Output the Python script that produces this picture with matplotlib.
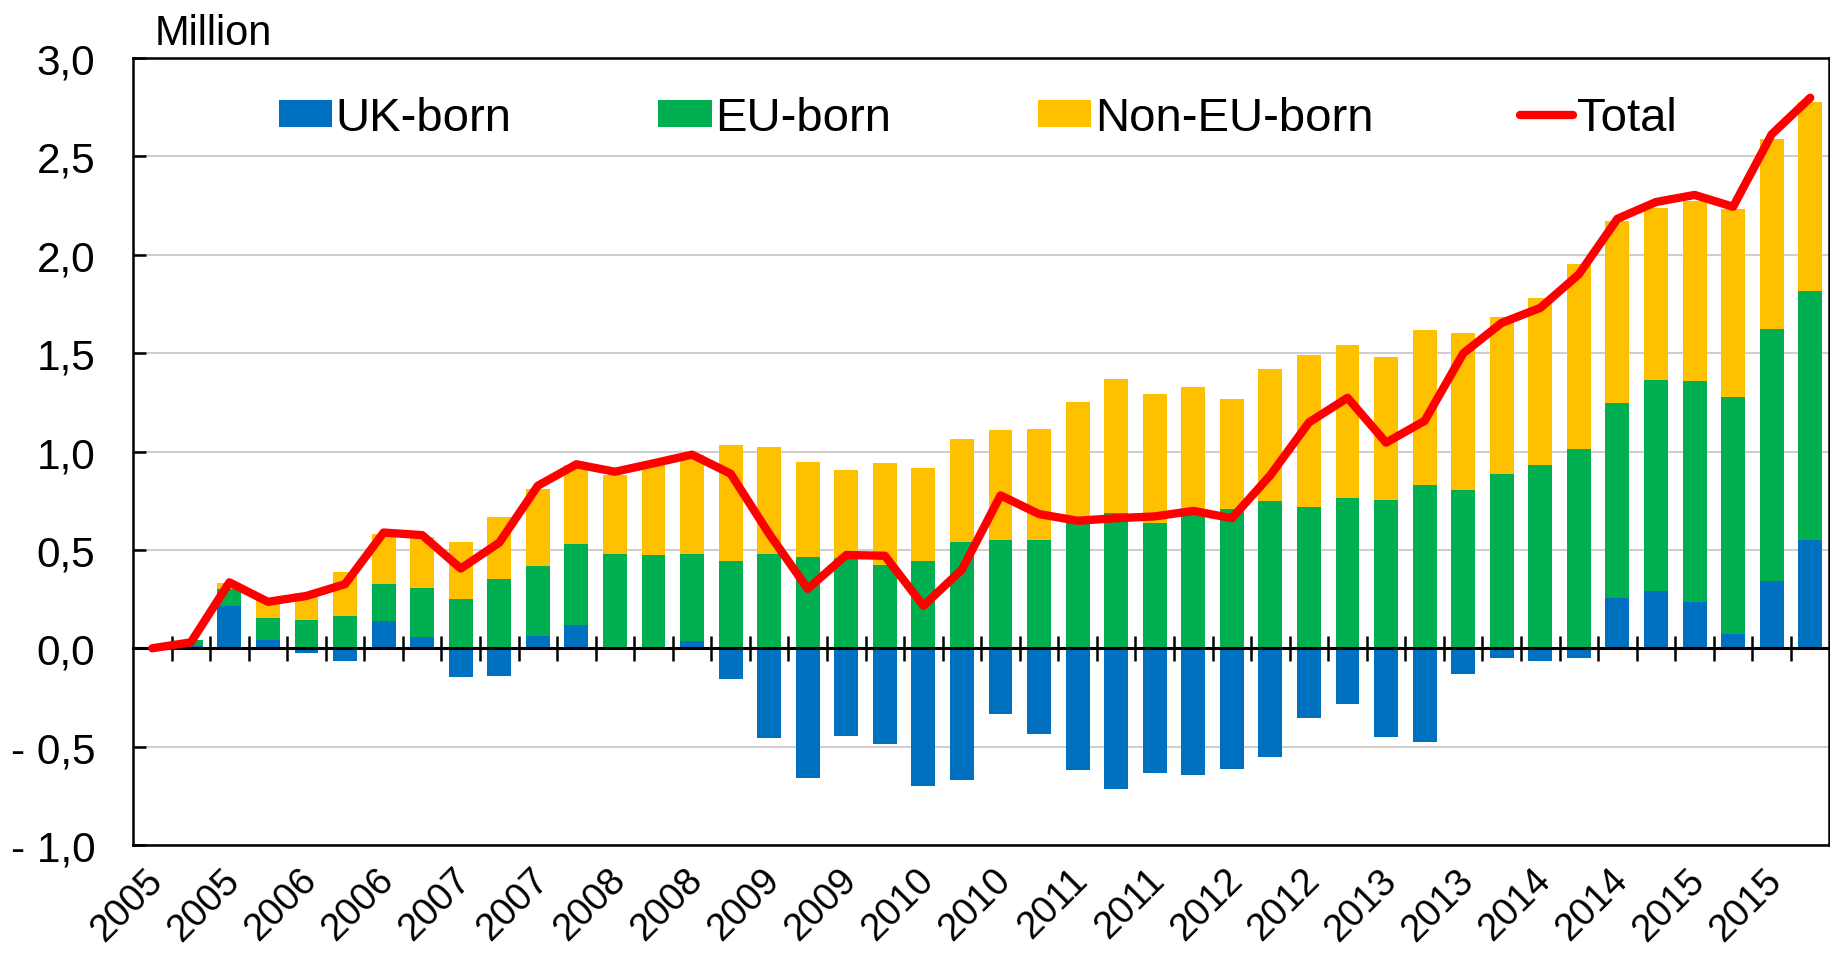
import matplotlib
matplotlib.use("Agg")
import matplotlib.pyplot as plt
import matplotlib.transforms as mtransforms
import numpy as np

plt.rcParams["font.family"] = ["Liberation Sans", "DejaVu Sans"]

# Quarterly data, 2005 Q1 .. 2015 Q4 (million, change since 2005 Q1)
years = [str(y) for y in range(2005, 2016) for _ in range(4)]
uk_born = [0.0, 0.01, 0.215, 0.044, -0.022, -0.066, 0.136, 0.058, -0.146, -0.143,
           0.061, 0.119, 0.0, 0.005, 0.035, -0.154, -0.458, -0.657, -0.448, -0.485,
           -0.70, -0.669, -0.336, -0.436, -0.618, -0.716, -0.636, -0.643, -0.616, -0.552,
           -0.352, -0.284, -0.452, -0.475, -0.129, -0.052, -0.067, -0.052, 0.256, 0.292,
           0.236, 0.073, 0.344, 0.548]
eu_born = [0.0, 0.03, 0.085, 0.11, 0.144, 0.166, 0.191, 0.247, 0.251, 0.354,
           0.358, 0.411, 0.478, 0.469, 0.445, 0.444, 0.481, 0.466, 0.458, 0.423,
           0.444, 0.54, 0.552, 0.55, 0.639, 0.686, 0.636, 0.686, 0.707, 0.748,
           0.718, 0.766, 0.755, 0.83, 0.804, 0.886, 0.929, 1.015, 0.989, 1.07,
           1.12, 1.202, 1.279, 1.269]
non_eu_born = [0.0, -0.01, 0.03, 0.10, 0.136, 0.224, 0.253, 0.258, 0.287, 0.312,
               0.391, 0.40, 0.405, 0.456, 0.50, 0.591, 0.542, 0.483, 0.446, 0.517,
               0.47, 0.526, 0.555, 0.564, 0.611, 0.68, 0.657, 0.644, 0.559, 0.672,
               0.771, 0.777, 0.727, 0.787, 0.797, 0.796, 0.849, 0.937, 0.928, 0.876,
               0.918, 0.957, 0.963, 0.96]
total = [0.0, 0.03, 0.335, 0.236, 0.266, 0.326, 0.588, 0.575, 0.405, 0.537,
         0.826, 0.935, 0.897, 0.94, 0.984, 0.887, 0.581, 0.302, 0.474, 0.47,
         0.216, 0.40, 0.777, 0.682, 0.648, 0.661, 0.67, 0.698, 0.661, 0.88,
         1.148, 1.273, 1.045, 1.156, 1.499, 1.654, 1.73, 1.901, 2.183, 2.268,
         2.304, 2.244, 2.612, 2.798]

series = [("UK-born", uk_born, "#0070C0"),
          ("EU-born", eu_born, "#00B050"),
          ("Non-EU-born", non_eu_born, "#FFC000")]

W, H = 1831, 954
fig = plt.figure(figsize=(W / 100, H / 100), dpi=100)
ax = fig.add_axes([133 / W, 1 - 846 / H, (1829.5 - 133) / W, (846 - 59) / H])

x = np.arange(len(total))
pos_base = np.zeros(len(x))
neg_base = np.zeros(len(x))
handles = []
for name, vals, color in series:
    v = np.array(vals)
    bottom = np.where(v >= 0, pos_base, neg_base)
    bars = ax.bar(x, v, width=0.62, bottom=bottom, color=color, label=name, zorder=2)
    handles.append(bars)
    pos_base += np.clip(v, 0, None)
    neg_base += np.clip(v, None, 0)

line, = ax.plot(x, total, color="#FF0000", lw=6, solid_capstyle="round",
                solid_joinstyle="round", label="Total", zorder=5)
handles.append(line)

ax.set_xlim(-0.5, len(x) - 0.5)
ax.set_ylim(-1.0, 3.0)
yt = np.arange(-1.0, 3.01, 0.5)
ax.set_yticks(yt)
ax.set_yticklabels([("- " if v < 0 else "") + f"{abs(v):.1f}".replace(".", ",") for v in yt])
ax.tick_params(axis="y", direction="in", length=9, width=1.8, pad=27, labelsize=30.5)
ax.yaxis.grid(True, color="#CFCFCF", lw=1.5)
ax.set_axisbelow(True)

ax.set_xticks(x[::2])
ax.set_xticklabels(years[::2], rotation=45, ha="right", va="top", rotation_mode="anchor")
ax.tick_params(axis="x", length=0, pad=12, labelsize=27.5)
shift = mtransforms.ScaledTranslation(-8 / 100, 0, fig.dpi_scale_trans)
for lab in ax.get_xticklabels():
    lab.set_transform(lab.get_transform() + shift)
for s in ax.spines.values():
    s.set_linewidth(1.8)
    s.set_color("black")

# category axis crossing at zero, with tick marks between categories
sec = ax.secondary_xaxis(0.25)
sec.set_xticks(np.arange(0.5, len(x) - 0.5, 1.0))
sec.set_xticklabels([])
sec.tick_params(axis="x", direction="inout", length=18, width=1.8)
sec.spines["bottom"].set_linewidth(2.2)
sec.set_zorder(3)

fig.text(155 / W, 1 - 45 / H, "Million", fontsize=30, ha="left", va="baseline")

leg = ax.legend(handles=handles, labels=[s[0] for s in series] + ["Total"],
                loc="center", bbox_to_anchor=(977.5 / W, 1 - 119 / H),
                bbox_transform=fig.transFigure, ncol=4, frameon=False, fontsize=34,
                handlelength=1.14, handleheight=0.5, handletextpad=0.07,
                columnspacing=3.1)
leg.set_zorder(10)

fig.savefig("out.png", dpi=100)
